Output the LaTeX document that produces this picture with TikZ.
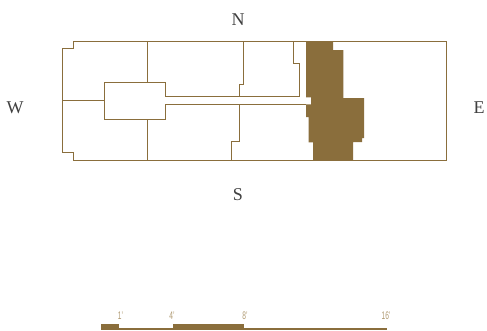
\documentclass[tikz,border=0pt]{standalone}
\usepackage{fontspec}
\setmainfont{Liberation Serif}
\setsansfont{Liberation Sans}
\definecolor{wallbrown}{HTML}{8A6E3C}
\definecolor{scaletan}{HTML}{B09A72}

\begin{document}
\begin{tikzpicture}[
    x=1pt, y=-1pt,
    wall/.style={draw=wallbrown, line width=1pt},
    compass/.style={font=\fontsize{18}{18}\selectfont, text=black!75},
    tick/.style={font=\sffamily\fontsize{11}{11}\selectfont, text=scaletan, xscale=0.6, yscale=1}
]

% Background
\useasboundingbox (0,0) rectangle (487,330);
\fill[white] (0,0) rectangle (487,330);

% Outer wall
\draw[wall] (73.3,41.5) -- (446.7,41.5) -- (446.7,160) -- (73,160) -- (73,152.7) -- (62,152.7) -- (62,48.5) -- (73.3,48.5) -- cycle;

% Centre room and corridor
\draw[wall] (299,96.7) -- (165.7,96.7) -- (165.7,82.7) -- (104.3,82.7) -- (104.3,119) -- (165.7,119) -- (165.7,104.3) -- (306,104.3);

% Room walls
\draw[wall, line width=1.5pt] (62,100.7) -- (104.3,100.7);
\draw[wall] (147.7,41.5) -- (147.7,82.7);
\draw[wall] (147.7,119) -- (147.7,160);
\draw[wall] (243.3,41.5) -- (243.3,84.3) -- (239.3,84.3) -- (239.3,96.7);
\draw[wall] (239.5,104.3) -- (239.5,141.7) -- (231.7,141.7) -- (231.7,160);
\draw[wall] (293.7,41.5) -- (293.7,63.3) -- (299,63.3) -- (299,96.7);

% Solid core
\fill[wallbrown] (306,41.2) -- (333,41.2) -- (333,50) -- (343.3,50) -- (343.3,98) -- (364,98) -- (364,138) -- (362,138) -- (362,142) -- (353,142) -- (353,160.4) -- (313,160.4) -- (313,142.3) -- (308.7,142.3) -- (308.7,117) -- (306,117) -- (306,104.3) -- (311,104.3) -- (311,97.3) -- (306,97.3) -- cycle;

% Compass letters
\node[compass] (north) at (238,20) {N};
\node[compass] (south) at (238,195) {S};
\node[compass] (west) at (15,108) {W};
\node[compass] (east) at (479,108) {E};

% Scale bar
\fill[wallbrown] (101,328) rectangle (386.7,330);
\fill[wallbrown] (101,324) rectangle (119,330);
\fill[wallbrown] (173,324) rectangle (244,330);
\node[tick] (one) at (120.5,316) {1'};
\node[tick] (four) at (172,316) {4'};
\node[tick] (eight) at (245,316) {8'};
\node[tick] (sixteen) at (386,316) {16'};

\end{tikzpicture}
\end{document}
